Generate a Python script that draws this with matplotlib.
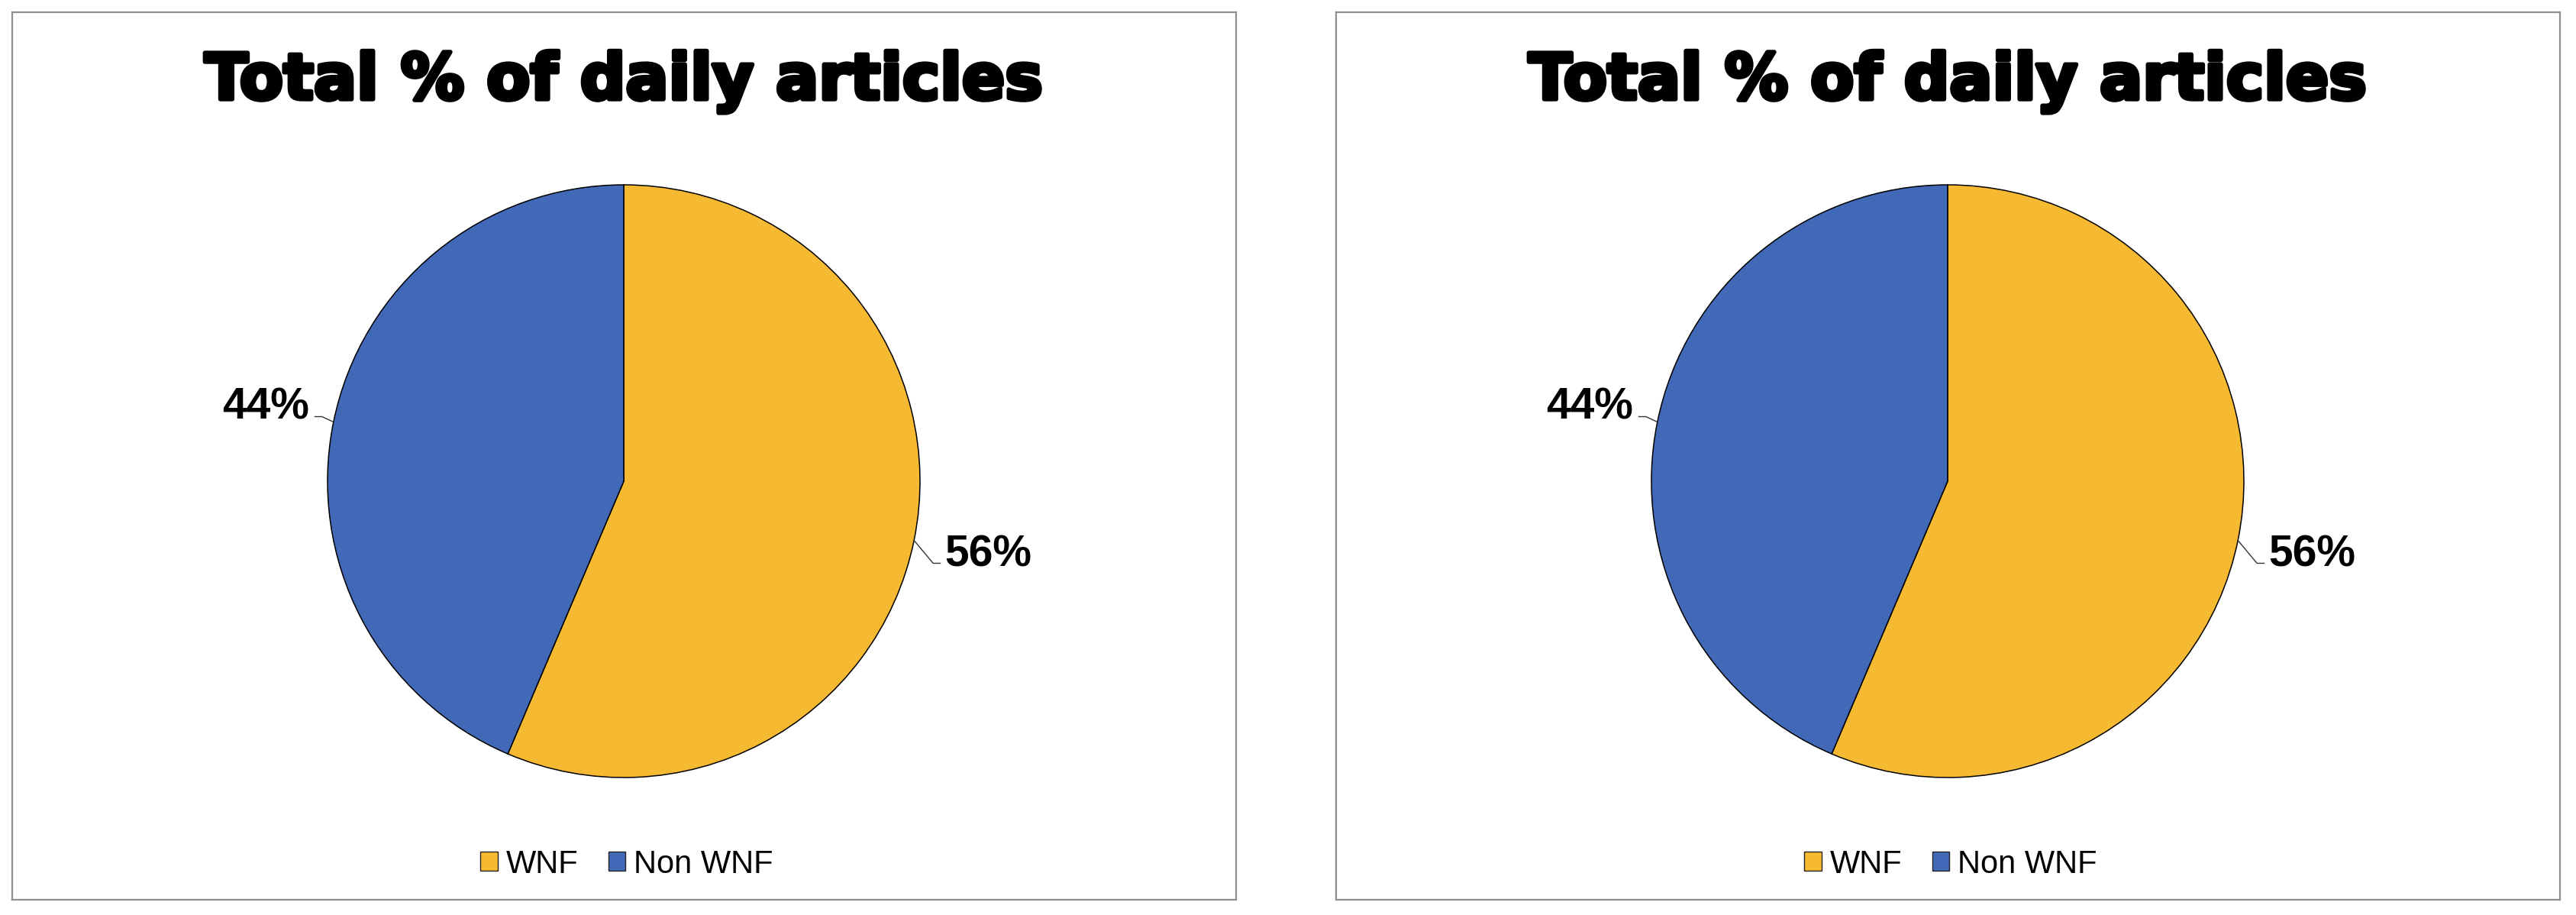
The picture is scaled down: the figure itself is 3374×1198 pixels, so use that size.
import numpy as np
import matplotlib
matplotlib.use("Agg")
import matplotlib.pyplot as plt
from matplotlib.patches import Patch
import matplotlib.patheffects as pe

# ---- data ----
categories = ["WNF", "Non WNF"]
left_values = [56.4, 43.6]
right_values = [56.4, 43.6]
titles = ["Total % of daily articles", "Total % of daily articles"]
colors = ["#F6B932", "#4269B7"]

W, H = 3374, 1198
DPI = 100
fig = plt.figure(figsize=(W / DPI, H / DPI), dpi=DPI)
fig.patch.set_facecolor("white")

# box geometry in pixels (from top-left)
boxes = [(16, 16, 1603, 1162), (1750, 16, 1603, 1162)]
R_PX = 388.0           # pie radius in pixels
CX_OFF, CY_OFF = 801, 614   # pie centre relative to box top-left

title_font = dict(family=["DejaVu Sans"], fontweight="bold", fontsize=60)
label_font = dict(family=["Liberation Sans", "DejaVu Sans"], fontweight="bold", fontsize=41)

for (bx, by, bw, bh), vals, ttl in zip(boxes, [left_values, right_values], titles):
    ax = fig.add_axes([bx / W, (H - by - bh) / H, bw / W, bh / H])
    wedges, _ = ax.pie(vals, colors=colors, startangle=90, counterclock=False,
                       radius=1.0, center=(0, 0),
                       wedgeprops=dict(edgecolor="black", linewidth=1.1))
    ax.set_aspect("auto")
    ax.set_xlim(-CX_OFF / R_PX, (bw - CX_OFF) / R_PX)
    ax.set_ylim(-(bh - CY_OFF) / R_PX, CY_OFF / R_PX)
    ax.set_xticks([])
    ax.set_yticks([])
    ax.set_frame_on(True)
    for s in ax.spines.values():
        s.set_visible(True)
        s.set_color("#8f8f8f")
        s.set_linewidth(1.6)

    ax.text(0.5, 0.902, ttl, transform=ax.transAxes, ha="center", va="baseline",
            color="black",
            path_effects=[pe.withStroke(linewidth=4, foreground="black")],
            **title_font)

    # data labels with leader lines
    px = 1.0 / R_PX
    for w, v in zip(wedges, vals):
        mid = np.deg2rad((w.theta1 + w.theta2) / 2.0)
        ex, ey = np.cos(mid), np.sin(mid)
        if ex >= 0:
            line = [(0, 0), (25, -30), (35, -30)]
            tx, ty, ha = 40, -34, "left"
        else:
            line = [(0, 0), (-15, 7), (-25, 7)]
            tx, ty, ha = -32, 4, "right"
        lx = [ex + a * px for a, b in line]
        ly = [ey + b * px for a, b in line]
        ax.plot(lx, ly, color="#333333", lw=1.0, solid_capstyle="butt")
        ax.text(ex + tx * px, ey + ty * px, f"{v:.0f}%", ha=ha, va="baseline",
                color="black", **label_font)

    handles = [Patch(facecolor=c, edgecolor="#222222", linewidth=1.0, label=l)
               for c, l in zip(colors, categories)]
    ax.legend(handles=handles, loc="center", bbox_to_anchor=(0.502, 0.040),
              ncol=2, frameon=False,
              prop=dict(family=["Liberation Sans", "DejaVu Sans"], size=30),
              handlelength=0.55, handleheight=0.55, handletextpad=0.25,
              columnspacing=0.95, borderaxespad=0)

fig.savefig("out.png", dpi=DPI, facecolor="white")
